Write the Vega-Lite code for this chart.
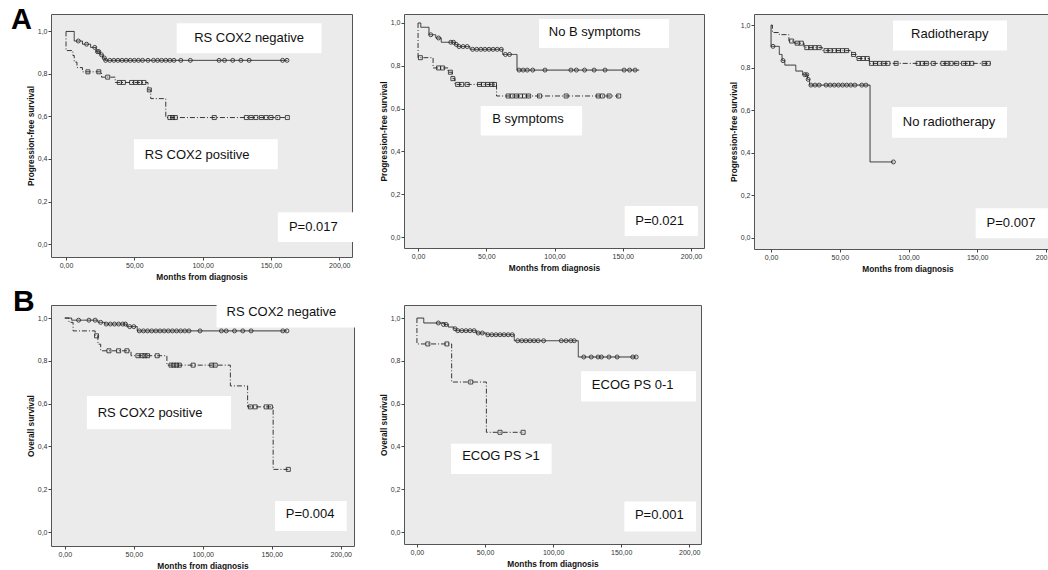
{
"$schema": "https://vega.github.io/schema/vega-lite/v6.json",
"background": "white",
"padding": {"left": 10, "top": 5, "right": 0, "bottom": 0},
"columns": 3,
"spacing": {"row": 48, "column": 50},
"align": {"row": "each", "column": "none"},
"bounds": "flush",
"resolve": {"scale": {"x": "independent", "y": "independent", "shape": "independent", "strokeDash": "independent"}},
"datasets": {
"steps": [
{"panel":"A1","group":"RS COX2 negative","t":0,"s":1},{"panel":"A1","group":"RS COX2 negative","t":6,"s":0.955},{"panel":"A1","group":"RS COX2 negative","t":12,"s":0.94},{"panel":"A1","group":"RS COX2 negative","t":18,"s":0.925},{"panel":"A1","group":"RS COX2 negative","t":22,"s":0.905},{"panel":"A1","group":"RS COX2 negative","t":25,"s":0.89},{"panel":"A1","group":"RS COX2 negative","t":27,"s":0.875},{"panel":"A1","group":"RS COX2 negative","t":28.5,"s":0.864},{"panel":"A1","group":"RS COX2 negative","t":162,"s":0.864},
{"panel":"A1","group":"RS COX2 positive","t":0,"s":1},{"panel":"A1","group":"RS COX2 positive","t":0,"s":0.91},{"panel":"A1","group":"RS COX2 positive","t":5,"s":0.887},{"panel":"A1","group":"RS COX2 positive","t":6,"s":0.856},{"panel":"A1","group":"RS COX2 positive","t":8,"s":0.83},{"panel":"A1","group":"RS COX2 positive","t":12,"s":0.81},{"panel":"A1","group":"RS COX2 positive","t":26,"s":0.785},{"panel":"A1","group":"RS COX2 positive","t":36,"s":0.76},{"panel":"A1","group":"RS COX2 positive","t":60,"s":0.725},{"panel":"A1","group":"RS COX2 positive","t":62,"s":0.684},{"panel":"A1","group":"RS COX2 positive","t":73,"s":0.595},{"panel":"A1","group":"RS COX2 positive","t":162,"s":0.595},
{"panel":"A2","group":"No B symptoms","t":0,"s":1},{"panel":"A2","group":"No B symptoms","t":2,"s":0.98},{"panel":"A2","group":"No B symptoms","t":8,"s":0.945},{"panel":"A2","group":"No B symptoms","t":13,"s":0.93},{"panel":"A2","group":"No B symptoms","t":17,"s":0.91},{"panel":"A2","group":"No B symptoms","t":27,"s":0.9},{"panel":"A2","group":"No B symptoms","t":29,"s":0.89},{"panel":"A2","group":"No B symptoms","t":38,"s":0.877},{"panel":"A2","group":"No B symptoms","t":62,"s":0.853},{"panel":"A2","group":"No B symptoms","t":72.5,"s":0.78},{"panel":"A2","group":"No B symptoms","t":162,"s":0.78},
{"panel":"A2","group":"B symptoms","t":0,"s":1},{"panel":"A2","group":"B symptoms","t":0,"s":0.838},{"panel":"A2","group":"B symptoms","t":11,"s":0.79},{"panel":"A2","group":"B symptoms","t":22,"s":0.77},{"panel":"A2","group":"B symptoms","t":25,"s":0.74},{"panel":"A2","group":"B symptoms","t":27,"s":0.713},{"panel":"A2","group":"B symptoms","t":57.5,"s":0.659},{"panel":"A2","group":"B symptoms","t":147,"s":0.659},
{"panel":"A3","group":"Radiotherapy","t":0,"s":1},{"panel":"A3","group":"Radiotherapy","t":1,"s":0.965},{"panel":"A3","group":"Radiotherapy","t":6,"s":0.955},{"panel":"A3","group":"Radiotherapy","t":13,"s":0.925},{"panel":"A3","group":"Radiotherapy","t":17,"s":0.915},{"panel":"A3","group":"Radiotherapy","t":24,"s":0.894},{"panel":"A3","group":"Radiotherapy","t":37.5,"s":0.88},{"panel":"A3","group":"Radiotherapy","t":58.5,"s":0.862},{"panel":"A3","group":"Radiotherapy","t":62,"s":0.843},{"panel":"A3","group":"Radiotherapy","t":71.5,"s":0.82},{"panel":"A3","group":"Radiotherapy","t":160,"s":0.82},
{"panel":"A3","group":"No radiotherapy","t":0,"s":1},{"panel":"A3","group":"No radiotherapy","t":0,"s":0.9},{"panel":"A3","group":"No radiotherapy","t":6,"s":0.862},{"panel":"A3","group":"No radiotherapy","t":8,"s":0.833},{"panel":"A3","group":"No radiotherapy","t":10,"s":0.812},{"panel":"A3","group":"No radiotherapy","t":18,"s":0.784},{"panel":"A3","group":"No radiotherapy","t":23,"s":0.767},{"panel":"A3","group":"No radiotherapy","t":26.5,"s":0.745},{"panel":"A3","group":"No radiotherapy","t":28,"s":0.718},{"panel":"A3","group":"No radiotherapy","t":72,"s":0.357},{"panel":"A3","group":"No radiotherapy","t":89,"s":0.357},
{"panel":"B1","group":"RS COX2 negative","t":0,"s":1},{"panel":"B1","group":"RS COX2 negative","t":5,"s":0.99},{"panel":"B1","group":"RS COX2 negative","t":24,"s":0.98},{"panel":"B1","group":"RS COX2 negative","t":29,"s":0.972},{"panel":"B1","group":"RS COX2 negative","t":45,"s":0.96},{"panel":"B1","group":"RS COX2 negative","t":52.5,"s":0.94},{"panel":"B1","group":"RS COX2 negative","t":161,"s":0.94},
{"panel":"B1","group":"RS COX2 positive","t":0,"s":1},{"panel":"B1","group":"RS COX2 positive","t":3,"s":0.98},{"panel":"B1","group":"RS COX2 positive","t":6,"s":0.94},{"panel":"B1","group":"RS COX2 positive","t":22,"s":0.917},{"panel":"B1","group":"RS COX2 positive","t":24,"s":0.878},{"panel":"B1","group":"RS COX2 positive","t":26,"s":0.847},{"panel":"B1","group":"RS COX2 positive","t":48,"s":0.824},{"panel":"B1","group":"RS COX2 positive","t":74,"s":0.78},{"panel":"B1","group":"RS COX2 positive","t":120,"s":0.683},{"panel":"B1","group":"RS COX2 positive","t":132.5,"s":0.585},{"panel":"B1","group":"RS COX2 positive","t":151,"s":0.293},{"panel":"B1","group":"RS COX2 positive","t":162,"s":0.293},
{"panel":"B2","group":"ECOG PS 0-1","t":0,"s":1},{"panel":"B2","group":"ECOG PS 0-1","t":5,"s":0.977},{"panel":"B2","group":"ECOG PS 0-1","t":20,"s":0.97},{"panel":"B2","group":"ECOG PS 0-1","t":23,"s":0.958},{"panel":"B2","group":"ECOG PS 0-1","t":27,"s":0.95},{"panel":"B2","group":"ECOG PS 0-1","t":29,"s":0.941},{"panel":"B2","group":"ECOG PS 0-1","t":43.5,"s":0.93},{"panel":"B2","group":"ECOG PS 0-1","t":51,"s":0.922},{"panel":"B2","group":"ECOG PS 0-1","t":71.5,"s":0.894},{"panel":"B2","group":"ECOG PS 0-1","t":118.5,"s":0.818},{"panel":"B2","group":"ECOG PS 0-1","t":161,"s":0.818},
{"panel":"B2","group":"ECOG PS >1","t":0,"s":1},{"panel":"B2","group":"ECOG PS >1","t":0,"s":0.879},{"panel":"B2","group":"ECOG PS >1","t":25.5,"s":0.701},{"panel":"B2","group":"ECOG PS >1","t":51,"s":0.466},{"panel":"B2","group":"ECOG PS >1","t":78,"s":0.466}
],
"cens": [
{"panel":"A1","group":"RS COX2 negative","t":9,"s":0.955},{"panel":"A1","group":"RS COX2 negative","t":15,"s":0.94},{"panel":"A1","group":"RS COX2 negative","t":21,"s":0.925},{"panel":"A1","group":"RS COX2 negative","t":23,"s":0.905},{"panel":"A1","group":"RS COX2 negative","t":24,"s":0.905},{"panel":"A1","group":"RS COX2 negative","t":26,"s":0.89},{"panel":"A1","group":"RS COX2 negative","t":28,"s":0.875},{"panel":"A1","group":"RS COX2 negative","t":29,"s":0.864},{"panel":"A1","group":"RS COX2 negative","t":32,"s":0.864},{"panel":"A1","group":"RS COX2 negative","t":35,"s":0.864},{"panel":"A1","group":"RS COX2 negative","t":38,"s":0.864},{"panel":"A1","group":"RS COX2 negative","t":41,"s":0.864},{"panel":"A1","group":"RS COX2 negative","t":44,"s":0.864},{"panel":"A1","group":"RS COX2 negative","t":47,"s":0.864},{"panel":"A1","group":"RS COX2 negative","t":50,"s":0.864},{"panel":"A1","group":"RS COX2 negative","t":53,"s":0.864},{"panel":"A1","group":"RS COX2 negative","t":56,"s":0.864},{"panel":"A1","group":"RS COX2 negative","t":60,"s":0.864},{"panel":"A1","group":"RS COX2 negative","t":64,"s":0.864},{"panel":"A1","group":"RS COX2 negative","t":67,"s":0.864},{"panel":"A1","group":"RS COX2 negative","t":70,"s":0.864},{"panel":"A1","group":"RS COX2 negative","t":73,"s":0.864},{"panel":"A1","group":"RS COX2 negative","t":76,"s":0.864},{"panel":"A1","group":"RS COX2 negative","t":79,"s":0.864},{"panel":"A1","group":"RS COX2 negative","t":84,"s":0.864},{"panel":"A1","group":"RS COX2 negative","t":91,"s":0.864},{"panel":"A1","group":"RS COX2 negative","t":112,"s":0.864},{"panel":"A1","group":"RS COX2 negative","t":116,"s":0.864},{"panel":"A1","group":"RS COX2 negative","t":122,"s":0.864},{"panel":"A1","group":"RS COX2 negative","t":128,"s":0.864},{"panel":"A1","group":"RS COX2 negative","t":134,"s":0.864},{"panel":"A1","group":"RS COX2 negative","t":158.5,"s":0.864},{"panel":"A1","group":"RS COX2 negative","t":161.7,"s":0.864},
{"panel":"A1","group":"RS COX2 positive","t":16,"s":0.81},{"panel":"A1","group":"RS COX2 positive","t":24,"s":0.81},{"panel":"A1","group":"RS COX2 positive","t":30.5,"s":0.785},{"panel":"A1","group":"RS COX2 positive","t":39,"s":0.76},{"panel":"A1","group":"RS COX2 positive","t":42,"s":0.76},{"panel":"A1","group":"RS COX2 positive","t":48,"s":0.76},{"panel":"A1","group":"RS COX2 positive","t":51,"s":0.76},{"panel":"A1","group":"RS COX2 positive","t":54,"s":0.76},{"panel":"A1","group":"RS COX2 positive","t":57,"s":0.76},{"panel":"A1","group":"RS COX2 positive","t":61,"s":0.725},{"panel":"A1","group":"RS COX2 positive","t":76,"s":0.595},{"panel":"A1","group":"RS COX2 positive","t":78,"s":0.595},{"panel":"A1","group":"RS COX2 positive","t":80,"s":0.595},{"panel":"A1","group":"RS COX2 positive","t":108.5,"s":0.595},{"panel":"A1","group":"RS COX2 positive","t":132,"s":0.595},{"panel":"A1","group":"RS COX2 positive","t":135.5,"s":0.595},{"panel":"A1","group":"RS COX2 positive","t":139,"s":0.595},{"panel":"A1","group":"RS COX2 positive","t":143,"s":0.595},{"panel":"A1","group":"RS COX2 positive","t":146.5,"s":0.595},{"panel":"A1","group":"RS COX2 positive","t":150,"s":0.595},{"panel":"A1","group":"RS COX2 positive","t":155,"s":0.595},{"panel":"A1","group":"RS COX2 positive","t":162,"s":0.595},
{"panel":"A2","group":"No B symptoms","t":9.3,"s":0.945},{"panel":"A2","group":"No B symptoms","t":15,"s":0.93},{"panel":"A2","group":"No B symptoms","t":24,"s":0.91},{"panel":"A2","group":"No B symptoms","t":26,"s":0.91},{"panel":"A2","group":"No B symptoms","t":28,"s":0.9},{"panel":"A2","group":"No B symptoms","t":30,"s":0.89},{"panel":"A2","group":"No B symptoms","t":33,"s":0.89},{"panel":"A2","group":"No B symptoms","t":36,"s":0.89},{"panel":"A2","group":"No B symptoms","t":40,"s":0.877},{"panel":"A2","group":"No B symptoms","t":43,"s":0.877},{"panel":"A2","group":"No B symptoms","t":46,"s":0.877},{"panel":"A2","group":"No B symptoms","t":49,"s":0.877},{"panel":"A2","group":"No B symptoms","t":52,"s":0.877},{"panel":"A2","group":"No B symptoms","t":55,"s":0.877},{"panel":"A2","group":"No B symptoms","t":58,"s":0.877},{"panel":"A2","group":"No B symptoms","t":61,"s":0.877},{"panel":"A2","group":"No B symptoms","t":64,"s":0.853},{"panel":"A2","group":"No B symptoms","t":67,"s":0.853},{"panel":"A2","group":"No B symptoms","t":74,"s":0.78},{"panel":"A2","group":"No B symptoms","t":77,"s":0.78},{"panel":"A2","group":"No B symptoms","t":80,"s":0.78},{"panel":"A2","group":"No B symptoms","t":84,"s":0.78},{"panel":"A2","group":"No B symptoms","t":93,"s":0.78},{"panel":"A2","group":"No B symptoms","t":112,"s":0.78},{"panel":"A2","group":"No B symptoms","t":116,"s":0.78},{"panel":"A2","group":"No B symptoms","t":122,"s":0.78},{"panel":"A2","group":"No B symptoms","t":129,"s":0.78},{"panel":"A2","group":"No B symptoms","t":137,"s":0.78},{"panel":"A2","group":"No B symptoms","t":151,"s":0.78},{"panel":"A2","group":"No B symptoms","t":155,"s":0.78},{"panel":"A2","group":"No B symptoms","t":159,"s":0.78},
{"panel":"A2","group":"B symptoms","t":1.7,"s":0.838},{"panel":"A2","group":"B symptoms","t":15,"s":0.79},{"panel":"A2","group":"B symptoms","t":18,"s":0.79},{"panel":"A2","group":"B symptoms","t":23.7,"s":0.77},{"panel":"A2","group":"B symptoms","t":25.5,"s":0.74},{"panel":"A2","group":"B symptoms","t":29,"s":0.713},{"panel":"A2","group":"B symptoms","t":32,"s":0.713},{"panel":"A2","group":"B symptoms","t":36,"s":0.713},{"panel":"A2","group":"B symptoms","t":45,"s":0.713},{"panel":"A2","group":"B symptoms","t":48,"s":0.713},{"panel":"A2","group":"B symptoms","t":51,"s":0.713},{"panel":"A2","group":"B symptoms","t":54,"s":0.713},{"panel":"A2","group":"B symptoms","t":56,"s":0.713},{"panel":"A2","group":"B symptoms","t":66,"s":0.659},{"panel":"A2","group":"B symptoms","t":69,"s":0.659},{"panel":"A2","group":"B symptoms","t":72,"s":0.659},{"panel":"A2","group":"B symptoms","t":75,"s":0.659},{"panel":"A2","group":"B symptoms","t":78,"s":0.659},{"panel":"A2","group":"B symptoms","t":81,"s":0.659},{"panel":"A2","group":"B symptoms","t":89,"s":0.659},{"panel":"A2","group":"B symptoms","t":108.5,"s":0.659},{"panel":"A2","group":"B symptoms","t":132,"s":0.659},{"panel":"A2","group":"B symptoms","t":135,"s":0.659},{"panel":"A2","group":"B symptoms","t":140,"s":0.659},{"panel":"A2","group":"B symptoms","t":147,"s":0.659},
{"panel":"A3","group":"Radiotherapy","t":15,"s":0.925},{"panel":"A3","group":"Radiotherapy","t":19,"s":0.915},{"panel":"A3","group":"Radiotherapy","t":22,"s":0.915},{"panel":"A3","group":"Radiotherapy","t":26,"s":0.894},{"panel":"A3","group":"Radiotherapy","t":29,"s":0.894},{"panel":"A3","group":"Radiotherapy","t":32,"s":0.894},{"panel":"A3","group":"Radiotherapy","t":35,"s":0.894},{"panel":"A3","group":"Radiotherapy","t":40,"s":0.88},{"panel":"A3","group":"Radiotherapy","t":43,"s":0.88},{"panel":"A3","group":"Radiotherapy","t":46,"s":0.88},{"panel":"A3","group":"Radiotherapy","t":49,"s":0.88},{"panel":"A3","group":"Radiotherapy","t":52,"s":0.88},{"panel":"A3","group":"Radiotherapy","t":55,"s":0.88},{"panel":"A3","group":"Radiotherapy","t":60,"s":0.862},{"panel":"A3","group":"Radiotherapy","t":64,"s":0.843},{"panel":"A3","group":"Radiotherapy","t":67,"s":0.843},{"panel":"A3","group":"Radiotherapy","t":70,"s":0.843},{"panel":"A3","group":"Radiotherapy","t":73,"s":0.82},{"panel":"A3","group":"Radiotherapy","t":76,"s":0.82},{"panel":"A3","group":"Radiotherapy","t":79,"s":0.82},{"panel":"A3","group":"Radiotherapy","t":82,"s":0.82},{"panel":"A3","group":"Radiotherapy","t":85,"s":0.82},{"panel":"A3","group":"Radiotherapy","t":91,"s":0.82},{"panel":"A3","group":"Radiotherapy","t":107,"s":0.82},{"panel":"A3","group":"Radiotherapy","t":110,"s":0.82},{"panel":"A3","group":"Radiotherapy","t":113,"s":0.82},{"panel":"A3","group":"Radiotherapy","t":118,"s":0.82},{"panel":"A3","group":"Radiotherapy","t":125,"s":0.82},{"panel":"A3","group":"Radiotherapy","t":128,"s":0.82},{"panel":"A3","group":"Radiotherapy","t":131,"s":0.82},{"panel":"A3","group":"Radiotherapy","t":135,"s":0.82},{"panel":"A3","group":"Radiotherapy","t":140,"s":0.82},{"panel":"A3","group":"Radiotherapy","t":143,"s":0.82},{"panel":"A3","group":"Radiotherapy","t":146,"s":0.82},{"panel":"A3","group":"Radiotherapy","t":155,"s":0.82},{"panel":"A3","group":"Radiotherapy","t":158,"s":0.82},
{"panel":"A3","group":"No radiotherapy","t":1.4,"s":0.9},{"panel":"A3","group":"No radiotherapy","t":8.7,"s":0.833},{"panel":"A3","group":"No radiotherapy","t":24.5,"s":0.767},{"panel":"A3","group":"No radiotherapy","t":26,"s":0.767},{"panel":"A3","group":"No radiotherapy","t":27,"s":0.745},{"panel":"A3","group":"No radiotherapy","t":29,"s":0.718},{"panel":"A3","group":"No radiotherapy","t":32,"s":0.718},{"panel":"A3","group":"No radiotherapy","t":35,"s":0.718},{"panel":"A3","group":"No radiotherapy","t":40,"s":0.718},{"panel":"A3","group":"No radiotherapy","t":43,"s":0.718},{"panel":"A3","group":"No radiotherapy","t":46,"s":0.718},{"panel":"A3","group":"No radiotherapy","t":49,"s":0.718},{"panel":"A3","group":"No radiotherapy","t":52,"s":0.718},{"panel":"A3","group":"No radiotherapy","t":55,"s":0.718},{"panel":"A3","group":"No radiotherapy","t":58,"s":0.718},{"panel":"A3","group":"No radiotherapy","t":61,"s":0.718},{"panel":"A3","group":"No radiotherapy","t":66,"s":0.718},{"panel":"A3","group":"No radiotherapy","t":69,"s":0.718},{"panel":"A3","group":"No radiotherapy","t":89,"s":0.357},
{"panel":"B1","group":"RS COX2 negative","t":10,"s":0.99},{"panel":"B1","group":"RS COX2 negative","t":17.5,"s":0.99},{"panel":"B1","group":"RS COX2 negative","t":22,"s":0.99},{"panel":"B1","group":"RS COX2 negative","t":26,"s":0.98},{"panel":"B1","group":"RS COX2 negative","t":30,"s":0.972},{"panel":"B1","group":"RS COX2 negative","t":33,"s":0.972},{"panel":"B1","group":"RS COX2 negative","t":36,"s":0.972},{"panel":"B1","group":"RS COX2 negative","t":39,"s":0.972},{"panel":"B1","group":"RS COX2 negative","t":42,"s":0.972},{"panel":"B1","group":"RS COX2 negative","t":44,"s":0.972},{"panel":"B1","group":"RS COX2 negative","t":47,"s":0.96},{"panel":"B1","group":"RS COX2 negative","t":50,"s":0.96},{"panel":"B1","group":"RS COX2 negative","t":54,"s":0.94},{"panel":"B1","group":"RS COX2 negative","t":57,"s":0.94},{"panel":"B1","group":"RS COX2 negative","t":60,"s":0.94},{"panel":"B1","group":"RS COX2 negative","t":63,"s":0.94},{"panel":"B1","group":"RS COX2 negative","t":66,"s":0.94},{"panel":"B1","group":"RS COX2 negative","t":69,"s":0.94},{"panel":"B1","group":"RS COX2 negative","t":72,"s":0.94},{"panel":"B1","group":"RS COX2 negative","t":75,"s":0.94},{"panel":"B1","group":"RS COX2 negative","t":78,"s":0.94},{"panel":"B1","group":"RS COX2 negative","t":81,"s":0.94},{"panel":"B1","group":"RS COX2 negative","t":84,"s":0.94},{"panel":"B1","group":"RS COX2 negative","t":87,"s":0.94},{"panel":"B1","group":"RS COX2 negative","t":90,"s":0.94},{"panel":"B1","group":"RS COX2 negative","t":98,"s":0.94},{"panel":"B1","group":"RS COX2 negative","t":113.5,"s":0.94},{"panel":"B1","group":"RS COX2 negative","t":117,"s":0.94},{"panel":"B1","group":"RS COX2 negative","t":123,"s":0.94},{"panel":"B1","group":"RS COX2 negative","t":129,"s":0.94},{"panel":"B1","group":"RS COX2 negative","t":135,"s":0.94},{"panel":"B1","group":"RS COX2 negative","t":158,"s":0.94},{"panel":"B1","group":"RS COX2 negative","t":161,"s":0.94},
{"panel":"B1","group":"RS COX2 positive","t":23,"s":0.917},{"panel":"B1","group":"RS COX2 positive","t":32,"s":0.847},{"panel":"B1","group":"RS COX2 positive","t":39,"s":0.847},{"panel":"B1","group":"RS COX2 positive","t":45,"s":0.847},{"panel":"B1","group":"RS COX2 positive","t":53,"s":0.824},{"panel":"B1","group":"RS COX2 positive","t":56,"s":0.824},{"panel":"B1","group":"RS COX2 positive","t":58,"s":0.824},{"panel":"B1","group":"RS COX2 positive","t":60,"s":0.824},{"panel":"B1","group":"RS COX2 positive","t":67,"s":0.824},{"panel":"B1","group":"RS COX2 positive","t":77,"s":0.78},{"panel":"B1","group":"RS COX2 positive","t":79,"s":0.78},{"panel":"B1","group":"RS COX2 positive","t":81,"s":0.78},{"panel":"B1","group":"RS COX2 positive","t":83,"s":0.78},{"panel":"B1","group":"RS COX2 positive","t":93,"s":0.78},{"panel":"B1","group":"RS COX2 positive","t":106.5,"s":0.78},{"panel":"B1","group":"RS COX2 positive","t":109,"s":0.78},{"panel":"B1","group":"RS COX2 positive","t":134.5,"s":0.585},{"panel":"B1","group":"RS COX2 positive","t":138,"s":0.585},{"panel":"B1","group":"RS COX2 positive","t":146,"s":0.585},{"panel":"B1","group":"RS COX2 positive","t":149,"s":0.585},{"panel":"B1","group":"RS COX2 positive","t":162,"s":0.293},
{"panel":"B2","group":"ECOG PS 0-1","t":15.7,"s":0.977},{"panel":"B2","group":"ECOG PS 0-1","t":19.5,"s":0.97},{"panel":"B2","group":"ECOG PS 0-1","t":21.5,"s":0.97},{"panel":"B2","group":"ECOG PS 0-1","t":28,"s":0.95},{"panel":"B2","group":"ECOG PS 0-1","t":30,"s":0.941},{"panel":"B2","group":"ECOG PS 0-1","t":33,"s":0.941},{"panel":"B2","group":"ECOG PS 0-1","t":36,"s":0.941},{"panel":"B2","group":"ECOG PS 0-1","t":39,"s":0.941},{"panel":"B2","group":"ECOG PS 0-1","t":42,"s":0.941},{"panel":"B2","group":"ECOG PS 0-1","t":45,"s":0.93},{"panel":"B2","group":"ECOG PS 0-1","t":48,"s":0.93},{"panel":"B2","group":"ECOG PS 0-1","t":52,"s":0.922},{"panel":"B2","group":"ECOG PS 0-1","t":55,"s":0.922},{"panel":"B2","group":"ECOG PS 0-1","t":58,"s":0.922},{"panel":"B2","group":"ECOG PS 0-1","t":61,"s":0.922},{"panel":"B2","group":"ECOG PS 0-1","t":64,"s":0.922},{"panel":"B2","group":"ECOG PS 0-1","t":67,"s":0.922},{"panel":"B2","group":"ECOG PS 0-1","t":70,"s":0.922},{"panel":"B2","group":"ECOG PS 0-1","t":74,"s":0.894},{"panel":"B2","group":"ECOG PS 0-1","t":77,"s":0.894},{"panel":"B2","group":"ECOG PS 0-1","t":80,"s":0.894},{"panel":"B2","group":"ECOG PS 0-1","t":83,"s":0.894},{"panel":"B2","group":"ECOG PS 0-1","t":86,"s":0.894},{"panel":"B2","group":"ECOG PS 0-1","t":89,"s":0.894},{"panel":"B2","group":"ECOG PS 0-1","t":93,"s":0.894},{"panel":"B2","group":"ECOG PS 0-1","t":106,"s":0.894},{"panel":"B2","group":"ECOG PS 0-1","t":109.5,"s":0.894},{"panel":"B2","group":"ECOG PS 0-1","t":113,"s":0.894},{"panel":"B2","group":"ECOG PS 0-1","t":115.5,"s":0.894},{"panel":"B2","group":"ECOG PS 0-1","t":122.5,"s":0.818},{"panel":"B2","group":"ECOG PS 0-1","t":128,"s":0.818},{"panel":"B2","group":"ECOG PS 0-1","t":133,"s":0.818},{"panel":"B2","group":"ECOG PS 0-1","t":135.5,"s":0.818},{"panel":"B2","group":"ECOG PS 0-1","t":141,"s":0.818},{"panel":"B2","group":"ECOG PS 0-1","t":147,"s":0.818},{"panel":"B2","group":"ECOG PS 0-1","t":158.5,"s":0.818},{"panel":"B2","group":"ECOG PS 0-1","t":161,"s":0.818},
{"panel":"B2","group":"ECOG PS >1","t":8,"s":0.879},{"panel":"B2","group":"ECOG PS >1","t":22,"s":0.879},{"panel":"B2","group":"ECOG PS >1","t":39.5,"s":0.701},{"panel":"B2","group":"ECOG PS >1","t":61,"s":0.466},{"panel":"B2","group":"ECOG PS >1","t":78,"s":0.466}
]
},
"concat": [
{
"width": 301, "height": 243,
"layer": [
{"data": {"values": [{}]}, "mark": {"type": "rect", "fill": "white"}, "encoding": {"x": {"datum": 81}, "x2": {"datum": 187}, "y": {"datum": 0.897}, "y2": {"datum": 1.038}}},
{"data": {"values": [{}]}, "mark": {"type": "rect", "fill": "white"}, "encoding": {"x": {"datum": 49.7}, "x2": {"datum": 155}, "y": {"datum": 0.352}, "y2": {"datum": 0.493}}},
{"data": {"values": [{}]}, "mark": {"type": "rect", "fill": "white"}, "encoding": {"x": {"datum": 155}, "x2": {"datum": 212}, "y": {"datum": 0.009}, "y2": {"datum": 0.15}}},
{"data": {"name": "steps"}, "transform": [{"filter": "datum.panel === 'A1'"}], "mark": {"type": "line", "interpolate": "step-after", "strokeWidth": 0.9, "color": "#222"},
 "encoding": {
  "x": {"field": "t", "type": "quantitative", "scale": {"domain": [-11, 209.3], "nice": false, "zero": false}, "axis": {"title": "Months from diagnosis", "values": [0, 50, 100, 150, 200], "labelExpr": "replace(format(datum.value, '.2f'), '.', ',')"}},
  "y": {"field": "s", "type": "quantitative", "scale": {"domain": [-0.061, 1.082], "nice": false, "zero": false}, "axis": {"title": "Progression-free survival", "values": [0, 0.2, 0.4, 0.6, 0.8, 1], "labelExpr": "replace(format(datum.value, '.1f'), '.', ',')"}},
  "strokeDash": {"field": "group", "type": "nominal", "scale": {"domain": ["RS COX2 negative", "RS COX2 positive"], "range": [[1, 0], [5, 2, 1, 2]]}, "legend": null}}},
{"data": {"name": "cens"}, "transform": [{"filter": "datum.panel === 'A1'"}], "mark": {"type": "point", "filled": false, "size": 16, "strokeWidth": 0.8, "color": "#222", "opacity": 1},
 "encoding": {"x": {"field": "t", "type": "quantitative"}, "y": {"field": "s", "type": "quantitative"}, "shape": {"field": "group", "type": "nominal", "scale": {"domain": ["RS COX2 negative", "RS COX2 positive"], "range": ["circle", "square"]}, "legend": null}}},
{"data": {"values": [{}]}, "mark": {"type": "text", "fontSize": 13, "color": "#111"}, "encoding": {"x": {"datum": 134}, "y": {"datum": 0.967}, "text": {"value": "RS COX2 negative"}}},
{"data": {"values": [{}]}, "mark": {"type": "text", "fontSize": 13, "color": "#111"}, "encoding": {"x": {"datum": 96}, "y": {"datum": 0.42}, "text": {"value": "RS COX2 positive"}}},
{"data": {"values": [{}]}, "mark": {"type": "text", "fontSize": 13, "color": "#111"}, "encoding": {"x": {"datum": 181}, "y": {"datum": 0.08}, "text": {"value": "P=0.017"}}},
{"data": {"values": [{}]}, "mark": {"type": "text", "fontSize": 29, "fontWeight": "bold", "align": "left", "baseline": "alphabetic", "color": "#000"}, "encoding": {"x": {"datum": -40.2}, "y": {"datum": 1.01}, "text": {"value": "A"}}}
]
},
{
"width": 300, "height": 234,
"layer": [
{"data": {"values": [{}]}, "mark": {"type": "rect", "fill": "white"}, "encoding": {"x": {"datum": 88.6}, "x2": {"datum": 183.9}, "y": {"datum": 0.883}, "y2": {"datum": 1.019}}},
{"data": {"values": [{}]}, "mark": {"type": "rect", "fill": "white"}, "encoding": {"x": {"datum": 45.9}, "x2": {"datum": 120.2}, "y": {"datum": 0.475}, "y2": {"datum": 0.612}}},
{"data": {"values": [{}]}, "mark": {"type": "rect", "fill": "white"}, "encoding": {"x": {"datum": 151.4}, "x2": {"datum": 205}, "y": {"datum": 0.005}, "y2": {"datum": 0.145}}},
{"data": {"name": "steps"}, "transform": [{"filter": "datum.panel === 'A2'"}], "mark": {"type": "line", "interpolate": "step-after", "strokeWidth": 0.9, "color": "#222"},
 "encoding": {
  "x": {"field": "t", "type": "quantitative", "scale": {"domain": [-10.3, 209.5], "nice": false, "zero": false}, "axis": {"title": "Months from diagnosis", "values": [0, 50, 100, 150, 200], "labelExpr": "replace(format(datum.value, '.2f'), '.', ',')"}},
  "y": {"field": "s", "type": "quantitative", "scale": {"domain": [-0.051, 1.042], "nice": false, "zero": false}, "axis": {"title": "Progression-free survival", "values": [0, 0.2, 0.4, 0.6, 0.8, 1], "labelExpr": "replace(format(datum.value, '.1f'), '.', ',')"}},
  "strokeDash": {"field": "group", "type": "nominal", "scale": {"domain": ["No B symptoms", "B symptoms"], "range": [[1, 0], [5, 2, 1, 2]]}, "legend": null}}},
{"data": {"name": "cens"}, "transform": [{"filter": "datum.panel === 'A2'"}], "mark": {"type": "point", "filled": false, "size": 16, "strokeWidth": 0.8, "color": "#222", "opacity": 1},
 "encoding": {"x": {"field": "t", "type": "quantitative"}, "y": {"field": "s", "type": "quantitative"}, "shape": {"field": "group", "type": "nominal", "scale": {"domain": ["No B symptoms", "B symptoms"], "range": ["circle", "square"]}, "legend": null}}},
{"data": {"values": [{}]}, "mark": {"type": "text", "fontSize": 13, "color": "#111"}, "encoding": {"x": {"datum": 129.4}, "y": {"datum": 0.958}, "text": {"value": "No B symptoms"}}},
{"data": {"values": [{}]}, "mark": {"type": "text", "fontSize": 13, "color": "#111"}, "encoding": {"x": {"datum": 80.6}, "y": {"datum": 0.553}, "text": {"value": "B symptoms"}}},
{"data": {"values": [{}]}, "mark": {"type": "text", "fontSize": 13, "color": "#111"}, "encoding": {"x": {"datum": 177}, "y": {"datum": 0.075}, "text": {"value": "P=0.021"}}}
]
},
{
"width": 307, "height": 235,
"layer": [
{"data": {"values": [{}]}, "mark": {"type": "rect", "fill": "white"}, "encoding": {"x": {"datum": 88.7}, "x2": {"datum": 171.6}, "y": {"datum": 0.881}, "y2": {"datum": 1.022}}},
{"data": {"values": [{}]}, "mark": {"type": "rect", "fill": "white"}, "encoding": {"x": {"datum": 88}, "x2": {"datum": 171.6}, "y": {"datum": 0.471}, "y2": {"datum": 0.615}}},
{"data": {"values": [{}]}, "mark": {"type": "rect", "fill": "white"}, "encoding": {"x": {"datum": 148.8}, "x2": {"datum": 215}, "y": {"datum": -0.002}, "y2": {"datum": 0.139}}},
{"data": {"name": "steps"}, "transform": [{"filter": "datum.panel === 'A3'"}], "mark": {"type": "line", "interpolate": "step-after", "strokeWidth": 0.9, "color": "#222"},
 "encoding": {
  "x": {"field": "t", "type": "quantitative", "scale": {"domain": [-12.4, 210.9], "nice": false, "zero": false}, "axis": {"title": "Months from diagnosis", "values": [0, 50, 100, 150, 200], "labelExpr": "replace(format(datum.value, '.2f'), '.', ',')"}},
  "y": {"field": "s", "type": "quantitative", "scale": {"domain": [-0.052, 1.052], "nice": false, "zero": false}, "axis": {"title": "Progression-free survival", "values": [0, 0.2, 0.4, 0.6, 0.8, 1], "labelExpr": "replace(format(datum.value, '.1f'), '.', ',')"}},
  "strokeDash": {"field": "group", "type": "nominal", "scale": {"domain": ["No radiotherapy", "Radiotherapy"], "range": [[1, 0], [5, 2, 1, 2]]}, "legend": null}}},
{"data": {"name": "cens"}, "transform": [{"filter": "datum.panel === 'A3'"}], "mark": {"type": "point", "filled": false, "size": 16, "strokeWidth": 0.8, "color": "#222", "opacity": 1},
 "encoding": {"x": {"field": "t", "type": "quantitative"}, "y": {"field": "s", "type": "quantitative"}, "shape": {"field": "group", "type": "nominal", "scale": {"domain": ["No radiotherapy", "Radiotherapy"], "range": ["circle", "square"]}, "legend": null}}},
{"data": {"values": [{}]}, "mark": {"type": "text", "fontSize": 13, "color": "#111"}, "encoding": {"x": {"datum": 130}, "y": {"datum": 0.956}, "text": {"value": "Radiotherapy"}}},
{"data": {"values": [{}]}, "mark": {"type": "text", "fontSize": 13, "color": "#111"}, "encoding": {"x": {"datum": 129.5}, "y": {"datum": 0.546}, "text": {"value": "No radiotherapy"}}},
{"data": {"values": [{}]}, "mark": {"type": "text", "fontSize": 13, "color": "#111"}, "encoding": {"x": {"datum": 174.5}, "y": {"datum": 0.072}, "text": {"value": "P=0.007"}}}
]
},
{
"width": 303, "height": 241,
"layer": [
{"data": {"values": [{}]}, "mark": {"type": "rect", "fill": "white"}, "encoding": {"x": {"datum": 110}, "x2": {"datum": 215}, "y": {"datum": 0.956}, "y2": {"datum": 1.096}}},
{"data": {"values": [{}]}, "mark": {"type": "rect", "fill": "white"}, "encoding": {"x": {"datum": 16}, "x2": {"datum": 120.5}, "y": {"datum": 0.48}, "y2": {"datum": 0.636}}},
{"data": {"values": [{}]}, "mark": {"type": "rect", "fill": "white"}, "encoding": {"x": {"datum": 152.4}, "x2": {"datum": 204.3}, "y": {"datum": 0.005}, "y2": {"datum": 0.145}}},
{"data": {"name": "steps"}, "transform": [{"filter": "datum.panel === 'B1'"}], "mark": {"type": "line", "interpolate": "step-after", "strokeWidth": 0.9, "color": "#222"},
 "encoding": {
  "x": {"field": "t", "type": "quantitative", "scale": {"domain": [-10, 209.6], "nice": false, "zero": false}, "axis": {"title": "Months from diagnosis", "values": [0, 50, 100, 150, 200], "labelExpr": "replace(format(datum.value, '.2f'), '.', ',')"}},
  "y": {"field": "s", "type": "quantitative", "scale": {"domain": [-0.065, 1.061], "nice": false, "zero": false}, "axis": {"title": "Overall survival", "values": [0, 0.2, 0.4, 0.6, 0.8, 1], "labelExpr": "replace(format(datum.value, '.1f'), '.', ',')"}},
  "strokeDash": {"field": "group", "type": "nominal", "scale": {"domain": ["RS COX2 negative", "RS COX2 positive"], "range": [[1, 0], [5, 2, 1, 2]]}, "legend": null}}},
{"data": {"name": "cens"}, "transform": [{"filter": "datum.panel === 'B1'"}], "mark": {"type": "point", "filled": false, "size": 16, "strokeWidth": 0.8, "color": "#222", "opacity": 1},
 "encoding": {"x": {"field": "t", "type": "quantitative"}, "y": {"field": "s", "type": "quantitative"}, "shape": {"field": "group", "type": "nominal", "scale": {"domain": ["RS COX2 negative", "RS COX2 positive"], "range": ["circle", "square"]}, "legend": null}}},
{"data": {"values": [{}]}, "mark": {"type": "text", "fontSize": 13, "color": "#111"}, "encoding": {"x": {"datum": 157}, "y": {"datum": 1.026}, "text": {"value": "RS COX2 negative"}}},
{"data": {"values": [{}]}, "mark": {"type": "text", "fontSize": 13, "color": "#111"}, "encoding": {"x": {"datum": 61.8}, "y": {"datum": 0.558}, "text": {"value": "RS COX2 positive"}}},
{"data": {"values": [{}]}, "mark": {"type": "text", "fontSize": 13, "color": "#111"}, "encoding": {"x": {"datum": 177.8}, "y": {"datum": 0.083}, "text": {"value": "P=0.004"}}},
{"data": {"values": [{}]}, "mark": {"type": "text", "fontSize": 30, "fontWeight": "bold", "align": "left", "baseline": "alphabetic", "color": "#000"}, "encoding": {"x": {"datum": -37.5}, "y": {"datum": 1.033}, "text": {"value": "B"}}}
]
},
{
"width": 297, "height": 239,
"layer": [
{"data": {"values": [{}]}, "mark": {"type": "rect", "fill": "white"}, "encoding": {"x": {"datum": 120.5}, "x2": {"datum": 204.9}, "y": {"datum": 0.61}, "y2": {"datum": 0.751}}},
{"data": {"values": [{}]}, "mark": {"type": "rect", "fill": "white"}, "encoding": {"x": {"datum": 25}, "x2": {"datum": 98.9}, "y": {"datum": 0.271}, "y2": {"datum": 0.413}}},
{"data": {"values": [{}]}, "mark": {"type": "rect", "fill": "white"}, "encoding": {"x": {"datum": 152.3}, "x2": {"datum": 205}, "y": {"datum": 0.003}, "y2": {"datum": 0.143}}},
{"data": {"name": "steps"}, "transform": [{"filter": "datum.panel === 'B2'"}], "mark": {"type": "line", "interpolate": "step-after", "strokeWidth": 0.9, "color": "#222"},
 "encoding": {
  "x": {"field": "t", "type": "quantitative", "scale": {"domain": [-9.5, 208.6], "nice": false, "zero": false}, "axis": {"title": "Months from diagnosis", "values": [0, 50, 100, 150, 200], "labelExpr": "replace(format(datum.value, '.2f'), '.', ',')"}},
  "y": {"field": "s", "type": "quantitative", "scale": {"domain": [-0.056, 1.061], "nice": false, "zero": false}, "axis": {"title": "Overall survival", "values": [0, 0.2, 0.4, 0.6, 0.8, 1], "labelExpr": "replace(format(datum.value, '.1f'), '.', ',')"}},
  "strokeDash": {"field": "group", "type": "nominal", "scale": {"domain": ["ECOG PS 0-1", "ECOG PS >1"], "range": [[1, 0], [5, 2, 1, 2]]}, "legend": null}}},
{"data": {"name": "cens"}, "transform": [{"filter": "datum.panel === 'B2'"}], "mark": {"type": "point", "filled": false, "size": 16, "strokeWidth": 0.8, "color": "#222", "opacity": 1},
 "encoding": {"x": {"field": "t", "type": "quantitative"}, "y": {"field": "s", "type": "quantitative"}, "shape": {"field": "group", "type": "nominal", "scale": {"domain": ["ECOG PS 0-1", "ECOG PS >1"], "range": ["circle", "square"]}, "legend": null}}},
{"data": {"values": [{}]}, "mark": {"type": "text", "fontSize": 13, "color": "#111"}, "encoding": {"x": {"datum": 158.4}, "y": {"datum": 0.685}, "text": {"value": "ECOG PS 0-1"}}},
{"data": {"values": [{}]}, "mark": {"type": "text", "fontSize": 13, "color": "#111"}, "encoding": {"x": {"datum": 61.7}, "y": {"datum": 0.354}, "text": {"value": "ECOG PS >1"}}},
{"data": {"values": [{}]}, "mark": {"type": "text", "fontSize": 13, "color": "#111"}, "encoding": {"x": {"datum": 178}, "y": {"datum": 0.081}, "text": {"value": "P=0.001"}}}
]
}
],
"config": {
 "font": "Liberation Sans",
 "view": {"stroke": "#555", "fill": "#ebebeb", "strokeWidth": 1},
 "axis": {"domain": false, "grid": false, "labelFont": "Liberation Sans", "labelFontSize": 7, "labelColor": "#333", "tickColor": "#444", "tickSize": 3, "labelPadding": 1, "labelFlush": false, "titleFont": "Liberation Sans", "titleFontSize": 8.3, "titleFontWeight": "bold", "titleColor": "#111"},
 "axisX": {"titlePadding": 4},
 "axisY": {"titlePadding": 2},
 "text": {"font": "Liberation Sans"}
}
}
